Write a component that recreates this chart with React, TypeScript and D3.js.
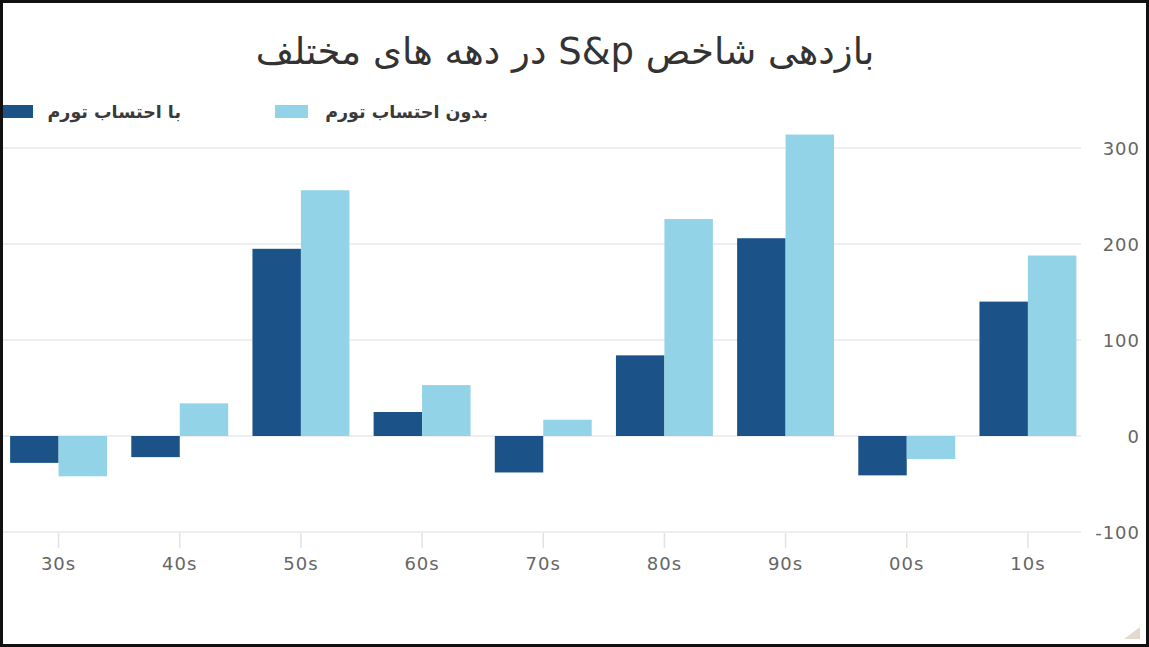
import React from "react";
import * as d3 from "d3";

const categories = ["30s", "40s", "50s", "60s", "70s", "80s", "90s", "00s", "10s"];
const realReturns = [-28, -22, 195, 25, -38, 84, 206, -41, 140];
const nominalReturns = [-42, 34, 256, 53, 17, 226, 314, -24, 188];
const yTicks = [-100, 0, 100, 200, 300];
const seriesKeys = ["real", "nominal"];
const seriesLabels = ["با احتساب تورم", "بدون احتساب تورم"];
const seriesColors = ["#1b5389", "#93d3e8"];
const title = "بازدهی شاخص S&p در دهه های مختلف";

const W = 1149;
const H = 647;

export default function App() {
  const x0 = d3
    .scaleBand<string>()
    .domain(categories)
    .range([-2, 1088.5])
    .paddingInner(0.2)
    .paddingOuter(0.1);
  const x1 = d3.scaleBand<string>().domain(seriesKeys).range([0, x0.bandwidth()]);
  const y = d3.scaleLinear().domain([-100, 300]).range([532, 148]);
  const series = [realReturns, nominalReturns];
  const numFont = "'DejaVu Sans', sans-serif";

  return (
    <svg
      width={W}
      height={H}
      style={{ position: "fixed", left: 0, top: 0, background: "#fff" }}
    >
      <rect x={0} y={0} width={W} height={H} fill="#fff" />
      {/* title */}
      <text
        x={565}
        y={64}
        textAnchor="middle"
        fontFamily="'DejaVu Sans', sans-serif"
        fontSize={37}
        fill="#333"
        direction="rtl"
      >
        {title}
      </text>
      {/* legend */}
      {[0, 1].map((i) => {
        const lx = i === 0 ? 0 : 275;
        const tx = i === 0 ? 181 : 488;
        return (
          <g key={i}>
            <rect x={lx} y={105} width={33} height={13} fill={seriesColors[i]} />
            <text
              x={tx}
              y={118}
              textAnchor="end"
              fontFamily="'DejaVu Sans', sans-serif"
              fontSize={17.5}
              fontWeight="bold"
              fill="#3a3a3a"
            >
              {seriesLabels[i]}
            </text>
          </g>
        );
      })}
      {/* grid */}
      {yTicks.map((t) => (
        <line
          key={t}
          x1={0}
          x2={1081}
          y1={y(t)}
          y2={y(t)}
          stroke="#e8e8e8"
          strokeWidth={1.5}
        />
      ))}
      {/* bars */}
      {categories.map((c, ci) => (
        <g key={c} transform={`translate(${x0(c)},0)`}>
          {seriesKeys.map((k, si) => {
            const v = series[si][ci];
            return (
              <rect
                key={k}
                x={x1(k)}
                width={x1.bandwidth()}
                y={y(Math.max(0, v))}
                height={Math.abs(y(v) - y(0))}
                fill={seriesColors[si]}
              />
            );
          })}
        </g>
      ))}
      {/* x ticks & labels */}
      {categories.map((c) => {
        const cx = (x0(c) as number) + x0.bandwidth() / 2;
        return (
          <g key={c}>
            <line x1={cx} x2={cx} y1={533} y2={548} stroke="#e2e2e2" strokeWidth={1.5} />
            <text
              x={cx}
              y={570}
              textAnchor="middle"
              fontFamily={numFont}
              fontSize={18}
              letterSpacing={1}
              fill="#666"
            >
              {c}
            </text>
          </g>
        );
      })}
      {/* y labels */}
      {yTicks.map((t) => (
        <text
          key={t}
          x={1140}
          y={y(t) + 7}
          textAnchor="end"
          fontFamily={numFont}
          fontSize={18}
          letterSpacing={1}
          fill="#666"
        >
          {t}
        </text>
      ))}
      {/* corner decoration */}
      <path d="M1140,627 L1140,639 L1124,639 Z" fill="#e3d9cc" />
      {/* frame */}
      <rect x={1.5} y={1.5} width={W - 3} height={H - 3} fill="none" stroke="#111" strokeWidth={3} />
    </svg>
  );
}
